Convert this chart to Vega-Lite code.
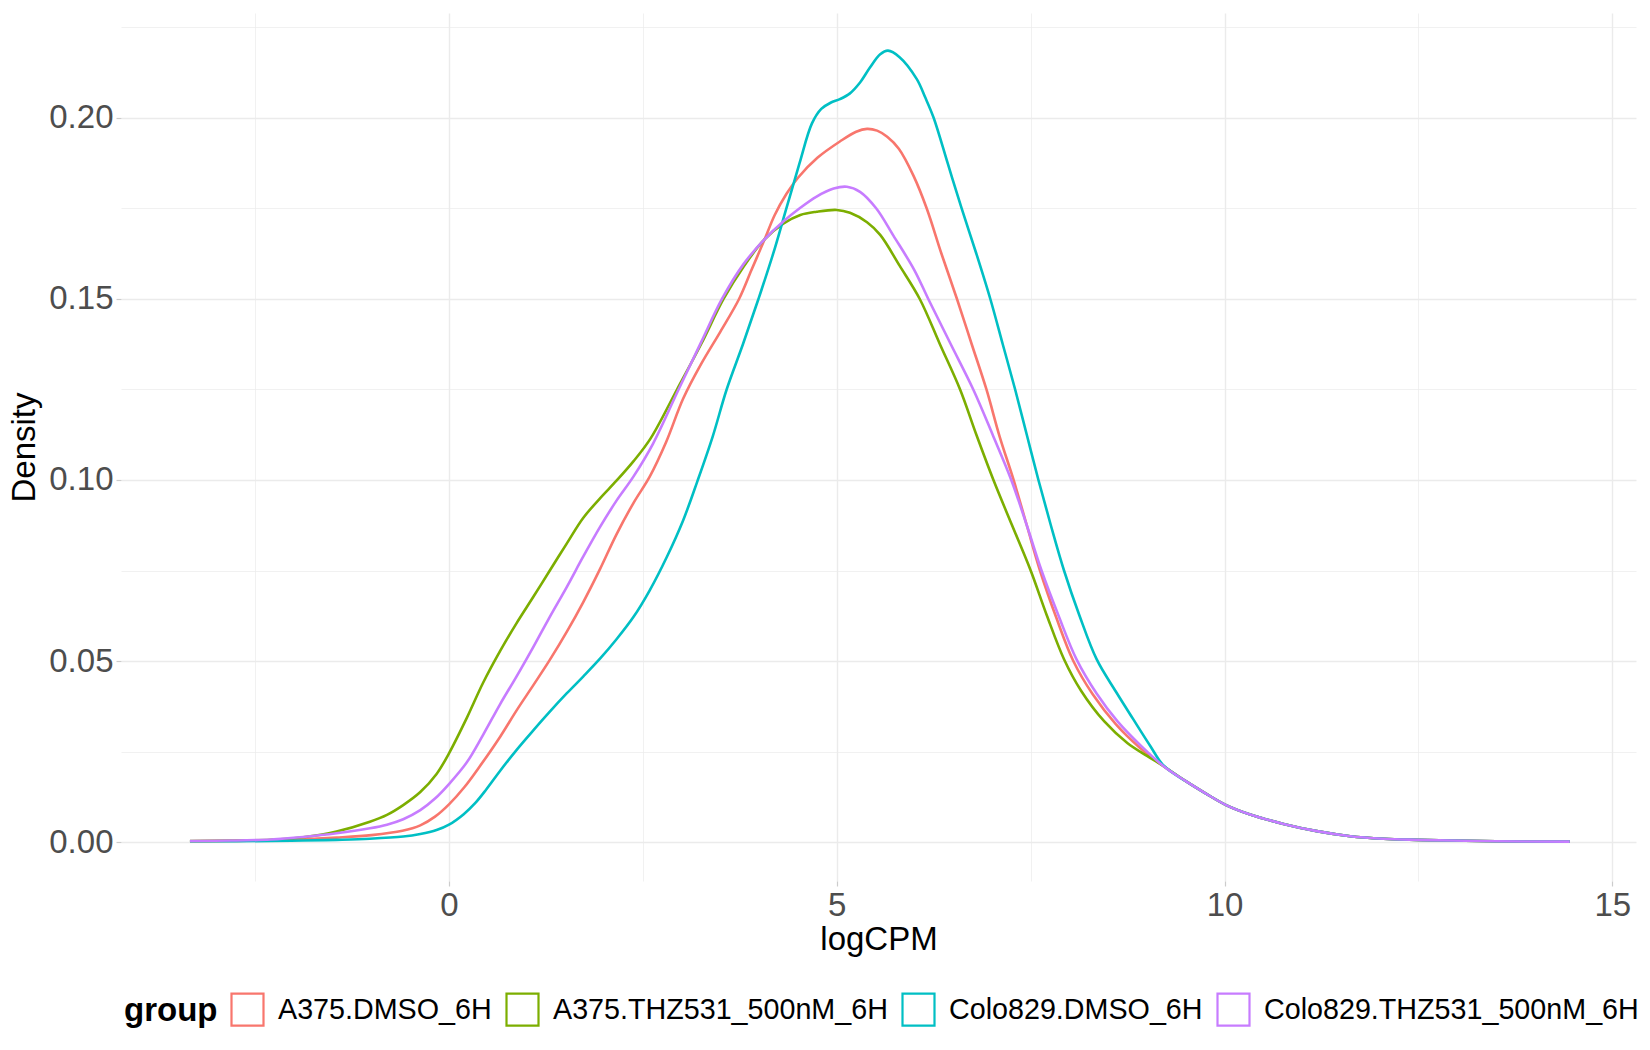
{
"$schema": "https://vega.github.io/schema/vega-lite/v6.json",
"width": 1515,
"height": 868,
"autosize": {"type": "none"},
"padding": {"left": 121, "top": 13, "right": 14, "bottom": 169},
"background": "white",
"config": {"view": {"stroke": null}, "font": "Liberation Sans"},
"datasets": {
"dens": [
{"group":"A375.DMSO_6H","logCPM":-3.34,"density":0.0002},
{"group":"A375.DMSO_6H","logCPM":-2.8,"density":0.0003},
{"group":"A375.DMSO_6H","logCPM":-2.3,"density":0.0005},
{"group":"A375.DMSO_6H","logCPM":-1.9,"density":0.0007},
{"group":"A375.DMSO_6H","logCPM":-1.45,"density":0.0012},
{"group":"A375.DMSO_6H","logCPM":-1.0,"density":0.0019},
{"group":"A375.DMSO_6H","logCPM":-0.6,"density":0.0031},
{"group":"A375.DMSO_6H","logCPM":-0.37,"density":0.0046},
{"group":"A375.DMSO_6H","logCPM":-0.18,"density":0.0070},
{"group":"A375.DMSO_6H","logCPM":0.0,"density":0.0104},
{"group":"A375.DMSO_6H","logCPM":0.2,"density":0.0152},
{"group":"A375.DMSO_6H","logCPM":0.4,"density":0.0210},
{"group":"A375.DMSO_6H","logCPM":0.66,"density":0.0291},
{"group":"A375.DMSO_6H","logCPM":0.87,"density":0.0363},
{"group":"A375.DMSO_6H","logCPM":1.09,"density":0.0434},
{"group":"A375.DMSO_6H","logCPM":1.3,"density":0.0503},
{"group":"A375.DMSO_6H","logCPM":1.52,"density":0.0581},
{"group":"A375.DMSO_6H","logCPM":1.73,"density":0.0662},
{"group":"A375.DMSO_6H","logCPM":1.95,"density":0.0755},
{"group":"A375.DMSO_6H","logCPM":2.16,"density":0.0850},
{"group":"A375.DMSO_6H","logCPM":2.38,"density":0.0937},
{"group":"A375.DMSO_6H","logCPM":2.59,"density":0.1010},
{"group":"A375.DMSO_6H","logCPM":2.8,"density":0.1105},
{"group":"A375.DMSO_6H","logCPM":3.02,"density":0.1225},
{"group":"A375.DMSO_6H","logCPM":3.25,"density":0.1320},
{"group":"A375.DMSO_6H","logCPM":3.5,"density":0.1410},
{"group":"A375.DMSO_6H","logCPM":3.74,"density":0.1500},
{"group":"A375.DMSO_6H","logCPM":3.9,"density":0.1580},
{"group":"A375.DMSO_6H","logCPM":4.07,"density":0.1665},
{"group":"A375.DMSO_6H","logCPM":4.2,"density":0.1732},
{"group":"A375.DMSO_6H","logCPM":4.35,"density":0.1790},
{"group":"A375.DMSO_6H","logCPM":4.5,"density":0.1835},
{"group":"A375.DMSO_6H","logCPM":4.75,"density":0.1890},
{"group":"A375.DMSO_6H","logCPM":5.04,"density":0.1935},
{"group":"A375.DMSO_6H","logCPM":5.25,"density":0.1962},
{"group":"A375.DMSO_6H","logCPM":5.39,"density":0.1970},
{"group":"A375.DMSO_6H","logCPM":5.52,"density":0.1965},
{"group":"A375.DMSO_6H","logCPM":5.65,"density":0.1948},
{"group":"A375.DMSO_6H","logCPM":5.8,"density":0.1915},
{"group":"A375.DMSO_6H","logCPM":5.99,"density":0.1840},
{"group":"A375.DMSO_6H","logCPM":6.16,"density":0.1750},
{"group":"A375.DMSO_6H","logCPM":6.35,"density":0.1625},
{"group":"A375.DMSO_6H","logCPM":6.55,"density":0.1500},
{"group":"A375.DMSO_6H","logCPM":6.74,"density":0.1375},
{"group":"A375.DMSO_6H","logCPM":6.93,"density":0.1250},
{"group":"A375.DMSO_6H","logCPM":7.1,"density":0.1120},
{"group":"A375.DMSO_6H","logCPM":7.28,"density":0.1000},
{"group":"A375.DMSO_6H","logCPM":7.45,"density":0.0875},
{"group":"A375.DMSO_6H","logCPM":7.62,"density":0.0750},
{"group":"A375.DMSO_6H","logCPM":7.83,"density":0.0620},
{"group":"A375.DMSO_6H","logCPM":8.05,"density":0.0500},
{"group":"A375.DMSO_6H","logCPM":8.3,"density":0.0408},
{"group":"A375.DMSO_6H","logCPM":8.6,"density":0.0325},
{"group":"A375.DMSO_6H","logCPM":8.9,"density":0.0262},
{"group":"A375.DMSO_6H","logCPM":9.21,"density":0.0210},
{"group":"A375.DMSO_6H","logCPM":9.5,"density":0.0168},
{"group":"A375.DMSO_6H","logCPM":9.75,"density":0.0135},
{"group":"A375.DMSO_6H","logCPM":10.02,"density":0.0102},
{"group":"A375.DMSO_6H","logCPM":10.33,"density":0.0076},
{"group":"A375.DMSO_6H","logCPM":10.76,"density":0.0050},
{"group":"A375.DMSO_6H","logCPM":11.19,"density":0.0030},
{"group":"A375.DMSO_6H","logCPM":11.62,"density":0.0016},
{"group":"A375.DMSO_6H","logCPM":12.05,"density":0.0009},
{"group":"A375.DMSO_6H","logCPM":12.48,"density":0.0006},
{"group":"A375.DMSO_6H","logCPM":12.91,"density":0.0004},
{"group":"A375.DMSO_6H","logCPM":13.5,"density":0.0002},
{"group":"A375.DMSO_6H","logCPM":14.45,"density":0.0001},

{"group":"A375.THZ531_500nM_6H","logCPM":-3.34,"density":0.0003},
{"group":"A375.THZ531_500nM_6H","logCPM":-2.8,"density":0.0004},
{"group":"A375.THZ531_500nM_6H","logCPM":-2.3,"density":0.0006},
{"group":"A375.THZ531_500nM_6H","logCPM":-1.88,"density":0.0013},
{"group":"A375.THZ531_500nM_6H","logCPM":-1.45,"density":0.0029},
{"group":"A375.THZ531_500nM_6H","logCPM":-1.02,"density":0.0056},
{"group":"A375.THZ531_500nM_6H","logCPM":-0.8,"density":0.0075},
{"group":"A375.THZ531_500nM_6H","logCPM":-0.59,"density":0.0102},
{"group":"A375.THZ531_500nM_6H","logCPM":-0.37,"density":0.0138},
{"group":"A375.THZ531_500nM_6H","logCPM":-0.16,"density":0.0188},
{"group":"A375.THZ531_500nM_6H","logCPM":0.0,"density":0.0245},
{"group":"A375.THZ531_500nM_6H","logCPM":0.23,"density":0.0343},
{"group":"A375.THZ531_500nM_6H","logCPM":0.44,"density":0.0440},
{"group":"A375.THZ531_500nM_6H","logCPM":0.66,"density":0.0528},
{"group":"A375.THZ531_500nM_6H","logCPM":0.87,"density":0.0604},
{"group":"A375.THZ531_500nM_6H","logCPM":1.09,"density":0.0678},
{"group":"A375.THZ531_500nM_6H","logCPM":1.3,"density":0.0750},
{"group":"A375.THZ531_500nM_6H","logCPM":1.52,"density":0.0825},
{"group":"A375.THZ531_500nM_6H","logCPM":1.73,"density":0.0895},
{"group":"A375.THZ531_500nM_6H","logCPM":1.95,"density":0.0950},
{"group":"A375.THZ531_500nM_6H","logCPM":2.16,"density":0.0998},
{"group":"A375.THZ531_500nM_6H","logCPM":2.38,"density":0.1052},
{"group":"A375.THZ531_500nM_6H","logCPM":2.6,"density":0.1115},
{"group":"A375.THZ531_500nM_6H","logCPM":2.94,"density":0.1250},
{"group":"A375.THZ531_500nM_6H","logCPM":3.25,"density":0.1375},
{"group":"A375.THZ531_500nM_6H","logCPM":3.54,"density":0.1500},
{"group":"A375.THZ531_500nM_6H","logCPM":3.8,"density":0.1590},
{"group":"A375.THZ531_500nM_6H","logCPM":4.07,"density":0.1665},
{"group":"A375.THZ531_500nM_6H","logCPM":4.31,"density":0.1708},
{"group":"A375.THZ531_500nM_6H","logCPM":4.53,"density":0.1732},
{"group":"A375.THZ531_500nM_6H","logCPM":4.74,"density":0.1741},
{"group":"A375.THZ531_500nM_6H","logCPM":5.0,"density":0.1746},
{"group":"A375.THZ531_500nM_6H","logCPM":5.17,"density":0.1738},
{"group":"A375.THZ531_500nM_6H","logCPM":5.39,"density":0.1712},
{"group":"A375.THZ531_500nM_6H","logCPM":5.56,"density":0.1677},
{"group":"A375.THZ531_500nM_6H","logCPM":5.81,"density":0.1592},
{"group":"A375.THZ531_500nM_6H","logCPM":6.07,"density":0.1500},
{"group":"A375.THZ531_500nM_6H","logCPM":6.33,"density":0.1375},
{"group":"A375.THZ531_500nM_6H","logCPM":6.59,"density":0.1250},
{"group":"A375.THZ531_500nM_6H","logCPM":6.8,"density":0.1125},
{"group":"A375.THZ531_500nM_6H","logCPM":7.02,"density":0.1000},
{"group":"A375.THZ531_500nM_6H","logCPM":7.26,"density":0.0875},
{"group":"A375.THZ531_500nM_6H","logCPM":7.5,"density":0.0750},
{"group":"A375.THZ531_500nM_6H","logCPM":7.71,"density":0.0625},
{"group":"A375.THZ531_500nM_6H","logCPM":7.93,"density":0.0505},
{"group":"A375.THZ531_500nM_6H","logCPM":8.15,"density":0.0418},
{"group":"A375.THZ531_500nM_6H","logCPM":8.45,"density":0.0333},
{"group":"A375.THZ531_500nM_6H","logCPM":8.75,"density":0.0273},
{"group":"A375.THZ531_500nM_6H","logCPM":9.0,"density":0.0238},
{"group":"A375.THZ531_500nM_6H","logCPM":9.21,"density":0.0210},
{"group":"A375.THZ531_500nM_6H","logCPM":9.5,"density":0.0168},
{"group":"A375.THZ531_500nM_6H","logCPM":9.75,"density":0.0135},
{"group":"A375.THZ531_500nM_6H","logCPM":10.02,"density":0.0102},
{"group":"A375.THZ531_500nM_6H","logCPM":10.33,"density":0.0076},
{"group":"A375.THZ531_500nM_6H","logCPM":10.76,"density":0.0050},
{"group":"A375.THZ531_500nM_6H","logCPM":11.19,"density":0.0030},
{"group":"A375.THZ531_500nM_6H","logCPM":11.62,"density":0.0016},
{"group":"A375.THZ531_500nM_6H","logCPM":12.05,"density":0.0009},
{"group":"A375.THZ531_500nM_6H","logCPM":12.48,"density":0.0006},
{"group":"A375.THZ531_500nM_6H","logCPM":12.91,"density":0.0004},
{"group":"A375.THZ531_500nM_6H","logCPM":13.5,"density":0.0002},
{"group":"A375.THZ531_500nM_6H","logCPM":14.45,"density":0.0001},

{"group":"Colo829.DMSO_6H","logCPM":-3.34,"density":0.0002},
{"group":"Colo829.DMSO_6H","logCPM":-2.8,"density":0.0002},
{"group":"Colo829.DMSO_6H","logCPM":-2.3,"density":0.0003},
{"group":"Colo829.DMSO_6H","logCPM":-1.88,"density":0.0004},
{"group":"Colo829.DMSO_6H","logCPM":-1.45,"density":0.0006},
{"group":"Colo829.DMSO_6H","logCPM":-1.02,"density":0.0009},
{"group":"Colo829.DMSO_6H","logCPM":-0.59,"density":0.0015},
{"group":"Colo829.DMSO_6H","logCPM":-0.37,"density":0.0022},
{"group":"Colo829.DMSO_6H","logCPM":-0.16,"density":0.0033},
{"group":"Colo829.DMSO_6H","logCPM":0.0,"density":0.0048},
{"group":"Colo829.DMSO_6H","logCPM":0.19,"density":0.0077},
{"group":"Colo829.DMSO_6H","logCPM":0.34,"density":0.0108},
{"group":"Colo829.DMSO_6H","logCPM":0.48,"density":0.0145},
{"group":"Colo829.DMSO_6H","logCPM":0.66,"density":0.0197},
{"group":"Colo829.DMSO_6H","logCPM":0.87,"density":0.0254},
{"group":"Colo829.DMSO_6H","logCPM":1.09,"density":0.0309},
{"group":"Colo829.DMSO_6H","logCPM":1.3,"density":0.0360},
{"group":"Colo829.DMSO_6H","logCPM":1.52,"density":0.0411},
{"group":"Colo829.DMSO_6H","logCPM":1.73,"density":0.0457},
{"group":"Colo829.DMSO_6H","logCPM":1.95,"density":0.0507},
{"group":"Colo829.DMSO_6H","logCPM":2.16,"density":0.0560},
{"group":"Colo829.DMSO_6H","logCPM":2.38,"density":0.0622},
{"group":"Colo829.DMSO_6H","logCPM":2.59,"density":0.0696},
{"group":"Colo829.DMSO_6H","logCPM":2.81,"density":0.0788},
{"group":"Colo829.DMSO_6H","logCPM":3.02,"density":0.0889},
{"group":"Colo829.DMSO_6H","logCPM":3.2,"density":0.0995},
{"group":"Colo829.DMSO_6H","logCPM":3.4,"density":0.1120},
{"group":"Colo829.DMSO_6H","logCPM":3.58,"density":0.1250},
{"group":"Colo829.DMSO_6H","logCPM":3.79,"density":0.1375},
{"group":"Colo829.DMSO_6H","logCPM":3.99,"density":0.1500},
{"group":"Colo829.DMSO_6H","logCPM":4.18,"density":0.1625},
{"group":"Colo829.DMSO_6H","logCPM":4.35,"density":0.1750},
{"group":"Colo829.DMSO_6H","logCPM":4.52,"density":0.1875},
{"group":"Colo829.DMSO_6H","logCPM":4.68,"density":0.1985},
{"group":"Colo829.DMSO_6H","logCPM":4.8,"density":0.2025},
{"group":"Colo829.DMSO_6H","logCPM":4.92,"density":0.2042},
{"group":"Colo829.DMSO_6H","logCPM":5.04,"density":0.2052},
{"group":"Colo829.DMSO_6H","logCPM":5.17,"density":0.2068},
{"group":"Colo829.DMSO_6H","logCPM":5.3,"density":0.2098},
{"group":"Colo829.DMSO_6H","logCPM":5.43,"density":0.2140},
{"group":"Colo829.DMSO_6H","logCPM":5.56,"density":0.2176},
{"group":"Colo829.DMSO_6H","logCPM":5.66,"density":0.2186},
{"group":"Colo829.DMSO_6H","logCPM":5.81,"density":0.2168},
{"group":"Colo829.DMSO_6H","logCPM":6.03,"density":0.2108},
{"group":"Colo829.DMSO_6H","logCPM":6.14,"density":0.2057},
{"group":"Colo829.DMSO_6H","logCPM":6.25,"density":0.2000},
{"group":"Colo829.DMSO_6H","logCPM":6.43,"density":0.1875},
{"group":"Colo829.DMSO_6H","logCPM":6.61,"density":0.1750},
{"group":"Colo829.DMSO_6H","logCPM":6.8,"density":0.1625},
{"group":"Colo829.DMSO_6H","logCPM":6.98,"density":0.1500},
{"group":"Colo829.DMSO_6H","logCPM":7.14,"density":0.1375},
{"group":"Colo829.DMSO_6H","logCPM":7.3,"density":0.1250},
{"group":"Colo829.DMSO_6H","logCPM":7.45,"density":0.1125},
{"group":"Colo829.DMSO_6H","logCPM":7.6,"density":0.1000},
{"group":"Colo829.DMSO_6H","logCPM":7.76,"density":0.0875},
{"group":"Colo829.DMSO_6H","logCPM":7.93,"density":0.0750},
{"group":"Colo829.DMSO_6H","logCPM":8.13,"density":0.0625},
{"group":"Colo829.DMSO_6H","logCPM":8.35,"density":0.0505},
{"group":"Colo829.DMSO_6H","logCPM":8.6,"density":0.0415},
{"group":"Colo829.DMSO_6H","logCPM":8.82,"density":0.0340},
{"group":"Colo829.DMSO_6H","logCPM":9.04,"density":0.0266},
{"group":"Colo829.DMSO_6H","logCPM":9.21,"density":0.0212},
{"group":"Colo829.DMSO_6H","logCPM":9.5,"density":0.0168},
{"group":"Colo829.DMSO_6H","logCPM":9.75,"density":0.0135},
{"group":"Colo829.DMSO_6H","logCPM":10.02,"density":0.0102},
{"group":"Colo829.DMSO_6H","logCPM":10.33,"density":0.0076},
{"group":"Colo829.DMSO_6H","logCPM":10.76,"density":0.0050},
{"group":"Colo829.DMSO_6H","logCPM":11.19,"density":0.0030},
{"group":"Colo829.DMSO_6H","logCPM":11.62,"density":0.0016},
{"group":"Colo829.DMSO_6H","logCPM":12.05,"density":0.0009},
{"group":"Colo829.DMSO_6H","logCPM":12.48,"density":0.0006},
{"group":"Colo829.DMSO_6H","logCPM":12.91,"density":0.0004},
{"group":"Colo829.DMSO_6H","logCPM":13.5,"density":0.0002},
{"group":"Colo829.DMSO_6H","logCPM":14.45,"density":0.0001},

{"group":"Colo829.THZ531_500nM_6H","logCPM":-3.34,"density":0.0003},
{"group":"Colo829.THZ531_500nM_6H","logCPM":-2.8,"density":0.0004},
{"group":"Colo829.THZ531_500nM_6H","logCPM":-2.3,"density":0.0007},
{"group":"Colo829.THZ531_500nM_6H","logCPM":-1.88,"density":0.0014},
{"group":"Colo829.THZ531_500nM_6H","logCPM":-1.45,"density":0.0024},
{"group":"Colo829.THZ531_500nM_6H","logCPM":-1.02,"density":0.0038},
{"group":"Colo829.THZ531_500nM_6H","logCPM":-0.8,"density":0.0048},
{"group":"Colo829.THZ531_500nM_6H","logCPM":-0.59,"density":0.0063},
{"group":"Colo829.THZ531_500nM_6H","logCPM":-0.37,"density":0.0088},
{"group":"Colo829.THZ531_500nM_6H","logCPM":-0.18,"density":0.0120},
{"group":"Colo829.THZ531_500nM_6H","logCPM":0.0,"density":0.0160},
{"group":"Colo829.THZ531_500nM_6H","logCPM":0.23,"density":0.0220},
{"group":"Colo829.THZ531_500nM_6H","logCPM":0.44,"density":0.0296},
{"group":"Colo829.THZ531_500nM_6H","logCPM":0.66,"density":0.0381},
{"group":"Colo829.THZ531_500nM_6H","logCPM":0.87,"density":0.0457},
{"group":"Colo829.THZ531_500nM_6H","logCPM":1.09,"density":0.0540},
{"group":"Colo829.THZ531_500nM_6H","logCPM":1.3,"density":0.0622},
{"group":"Colo829.THZ531_500nM_6H","logCPM":1.52,"density":0.0705},
{"group":"Colo829.THZ531_500nM_6H","logCPM":1.73,"density":0.0788},
{"group":"Colo829.THZ531_500nM_6H","logCPM":1.95,"density":0.0871},
{"group":"Colo829.THZ531_500nM_6H","logCPM":2.16,"density":0.0943},
{"group":"Colo829.THZ531_500nM_6H","logCPM":2.38,"density":0.1010},
{"group":"Colo829.THZ531_500nM_6H","logCPM":2.63,"density":0.1100},
{"group":"Colo829.THZ531_500nM_6H","logCPM":2.96,"density":0.1250},
{"group":"Colo829.THZ531_500nM_6H","logCPM":3.25,"density":0.1380},
{"group":"Colo829.THZ531_500nM_6H","logCPM":3.52,"density":0.1500},
{"group":"Colo829.THZ531_500nM_6H","logCPM":3.8,"density":0.1597},
{"group":"Colo829.THZ531_500nM_6H","logCPM":4.07,"density":0.1665},
{"group":"Colo829.THZ531_500nM_6H","logCPM":4.31,"density":0.1714},
{"group":"Colo829.THZ531_500nM_6H","logCPM":4.53,"density":0.1752},
{"group":"Colo829.THZ531_500nM_6H","logCPM":4.74,"density":0.1783},
{"group":"Colo829.THZ531_500nM_6H","logCPM":4.96,"density":0.1805},
{"group":"Colo829.THZ531_500nM_6H","logCPM":5.13,"density":0.1810},
{"group":"Colo829.THZ531_500nM_6H","logCPM":5.3,"density":0.1796},
{"group":"Colo829.THZ531_500nM_6H","logCPM":5.51,"density":0.1750},
{"group":"Colo829.THZ531_500nM_6H","logCPM":5.73,"density":0.1675},
{"group":"Colo829.THZ531_500nM_6H","logCPM":6.0,"density":0.1580},
{"group":"Colo829.THZ531_500nM_6H","logCPM":6.18,"density":0.1500},
{"group":"Colo829.THZ531_500nM_6H","logCPM":6.47,"density":0.1375},
{"group":"Colo829.THZ531_500nM_6H","logCPM":6.76,"density":0.1250},
{"group":"Colo829.THZ531_500nM_6H","logCPM":7.01,"density":0.1125},
{"group":"Colo829.THZ531_500nM_6H","logCPM":7.25,"density":0.1000},
{"group":"Colo829.THZ531_500nM_6H","logCPM":7.45,"density":0.0875},
{"group":"Colo829.THZ531_500nM_6H","logCPM":7.64,"density":0.0750},
{"group":"Colo829.THZ531_500nM_6H","logCPM":7.86,"density":0.0625},
{"group":"Colo829.THZ531_500nM_6H","logCPM":8.09,"density":0.0505},
{"group":"Colo829.THZ531_500nM_6H","logCPM":8.35,"density":0.0410},
{"group":"Colo829.THZ531_500nM_6H","logCPM":8.62,"density":0.0333},
{"group":"Colo829.THZ531_500nM_6H","logCPM":8.93,"density":0.0264},
{"group":"Colo829.THZ531_500nM_6H","logCPM":9.21,"density":0.0210},
{"group":"Colo829.THZ531_500nM_6H","logCPM":9.5,"density":0.0168},
{"group":"Colo829.THZ531_500nM_6H","logCPM":9.75,"density":0.0135},
{"group":"Colo829.THZ531_500nM_6H","logCPM":10.02,"density":0.0102},
{"group":"Colo829.THZ531_500nM_6H","logCPM":10.33,"density":0.0076},
{"group":"Colo829.THZ531_500nM_6H","logCPM":10.76,"density":0.0050},
{"group":"Colo829.THZ531_500nM_6H","logCPM":11.19,"density":0.0030},
{"group":"Colo829.THZ531_500nM_6H","logCPM":11.62,"density":0.0016},
{"group":"Colo829.THZ531_500nM_6H","logCPM":12.05,"density":0.0009},
{"group":"Colo829.THZ531_500nM_6H","logCPM":12.48,"density":0.0006},
{"group":"Colo829.THZ531_500nM_6H","logCPM":12.91,"density":0.0004},
{"group":"Colo829.THZ531_500nM_6H","logCPM":13.5,"density":0.0002},
{"group":"Colo829.THZ531_500nM_6H","logCPM":14.45,"density":0.0001}
]
},
"data": {"name": "dens"},
"mark": {"type": "line", "strokeWidth": 2.6, "interpolate": "catmull-rom"},
"encoding": {
"x": {
"field": "logCPM", "type": "quantitative",
"scale": {"domain": [-4.229, 15.305], "nice": false, "zero": false},
"axis": {
"title": "logCPM",
"values": [-2.5, 0, 2.5, 5, 7.5, 10, 12.5, 15],
"labelExpr": "datum.value % 5 === 0 ? format(datum.value, 'd') : ''",
"labelFont": "Liberation Sans", "labelFontSize": 33, "labelColor": "#4D4D4D",
"labelBaseline": "alphabetic", "labelPadding": 29.5,
"labelFlush": false, "labelOverlap": false,
"domain": false,
"ticks": true, "tickSize": 5, "tickColor": "#CCCCCC", "tickWidth": 1.2,
"tickOpacity": {"condition": {"test": "datum.value % 5 === 0", "value": 1}, "value": 0},
"grid": true, "gridColor": "#EBEBEB",
"gridWidth": {"condition": {"test": "datum.value % 5 === 0", "value": 1.4}, "value": 0.7},
"titleFont": "Liberation Sans", "titleFontSize": 33, "titleFontWeight": "normal", "titleColor": "black",
"titleBaseline": "alphabetic", "titleAlign": "center", "titleX": 757.5, "titleY": 68
}
},
"y": {
"field": "density", "type": "quantitative",
"scale": {"domain": [-0.01077, 0.229], "nice": false, "zero": false},
"axis": {
"title": "Density",
"values": [0, 0.025, 0.05, 0.075, 0.1, 0.125, 0.15, 0.175, 0.2, 0.225],
"labelExpr": "round(datum.value * 1000) % 50 === 0 ? format(datum.value, '.2f') : ''",
"labelFont": "Liberation Sans", "labelFontSize": 33, "labelColor": "#4D4D4D",
"labelPadding": 3, "labelFlush": false, "labelOverlap": false,
"domain": false,
"ticks": true, "tickSize": 5, "tickColor": "#CCCCCC", "tickWidth": 1.2,
"tickOpacity": {"condition": {"test": "round(datum.value * 1000) % 50 === 0", "value": 1}, "value": 0},
"grid": true, "gridColor": "#EBEBEB",
"gridWidth": {"condition": {"test": "round(datum.value * 1000) % 50 === 0", "value": 1.4}, "value": 0.7},
"titleFont": "Liberation Sans", "titleFontSize": 33, "titleFontWeight": "normal", "titleColor": "black",
"titleAngle": -90, "titleBaseline": "alphabetic", "titleAlign": "center", "titleX": -86.5, "titleY": 434
}
},
"color": {
"field": "group", "type": "nominal",
"scale": {
"domain": ["A375.DMSO_6H", "A375.THZ531_500nM_6H", "Colo829.DMSO_6H", "Colo829.THZ531_500nM_6H"],
"range": ["#F8766D", "#7CAE00", "#00BFC4", "#C77CFF"]
},
"legend": {
"title": "group",
"orient": "none", "legendX": 3, "legendY": 979,
"direction": "horizontal",
"titleOrient": "left", "titleAnchor": "middle", "titleBaseline": "middle",
"titleFont": "Liberation Sans", "titleFontSize": 33, "titleFontWeight": "bold", "titleColor": "black",
"titlePadding": 12,
"labelFont": "Liberation Sans", "labelFontSize": 28.7, "labelColor": "black", "labelLimit": 0,
"labelOffset": 13, "columnPadding": 10,
"symbolType": "square", "symbolSize": 1024, "symbolStrokeWidth": 2.2, "symbolFillColor": "white"
}
}
}
}
